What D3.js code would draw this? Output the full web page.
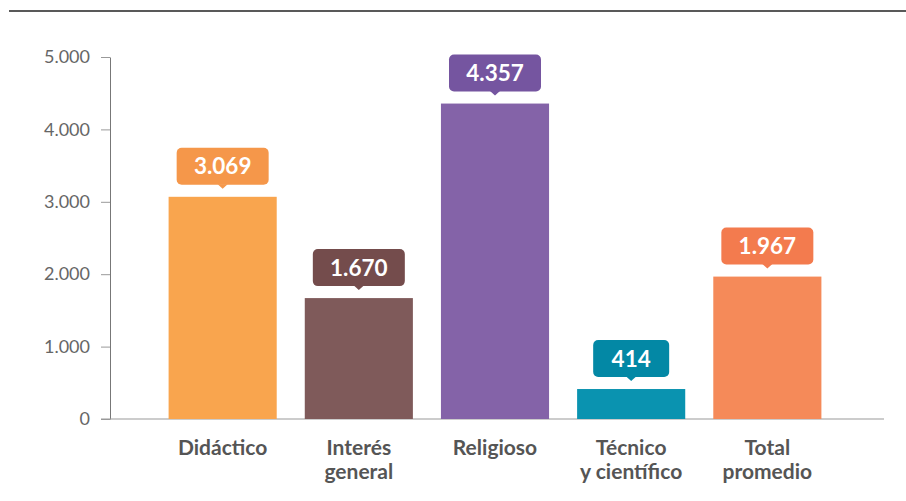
<!DOCTYPE html>
<html>
<head>
<meta charset="utf-8">
<script src="https://cdn.jsdelivr.net/npm/d3@7"></script>
<style>
  html, body { margin: 0; padding: 0; background: #fff; }
  svg { display: block; font-family: Lato, "Open Sans", sans-serif; }
</style>
</head>
<body>
<svg id="chart" width="906" height="501"></svg>
<script>
// data
const categories = [["Didáctico"], ["Interés", "general"], ["Religioso"], ["Técnico", "y científico"], ["Total", "promedio"]];
const values = [3069, 1670, 4357, 414, 1967];
const barColors = ["#F9A54E", "#7F5A5A", "#8463A8", "#0A93B0", "#F58A59"];
const tagColors = ["#F5974A", "#744C4C", "#7555A0", "#0388A5", "#F37B4E"];
const yTicks = [0, 1000, 2000, 3000, 4000, 5000];

const svg = d3.select("#chart");
const fmt = d3.formatLocale({ decimal: ",", thousands: ".", grouping: [3], currency: ["", ""] }).format(",d");

const x = d3.scaleBand()
  .domain(d3.range(values.length))
  .range([108, 882])
  .paddingInner(0.206)
  .paddingOuter(0.445);

const y = d3.scaleLinear()
  .domain([0, 5000])
  .range([419, 57]);

// top rule
svg.append("line")
  .attr("x1", 9).attr("x2", 906)
  .attr("y1", 11).attr("y2", 11)
  .attr("stroke", "#222").attr("stroke-width", 1.5);

// y axis
const yAxis = svg.append("g")
  .attr("transform", "translate(110,0)")
  .call(d3.axisLeft(y).tickValues(yTicks).tickFormat(fmt).tickSize(9).tickPadding(11).tickSizeOuter(0));
yAxis.select(".domain").attr("stroke", "#777");
yAxis.selectAll(".tick line").attr("stroke", "#999");
yAxis.selectAll(".tick text")
  .attr("fill", "#666")
  .attr("font-size", 18)
  .attr("font-family", "Lato, 'Open Sans', sans-serif");

// baseline
svg.append("line")
  .attr("x1", 101).attr("x2", 884)
  .attr("y1", y(0)).attr("y2", y(0))
  .attr("stroke", "#999").attr("stroke-width", 1.2);

// bars
svg.selectAll("rect.bar")
  .data(values)
  .join("rect")
  .attr("class", "bar")
  .attr("x", (d, i) => x(i))
  .attr("y", d => y(d))
  .attr("width", x.bandwidth())
  .attr("height", d => y(0) - y(d))
  .attr("fill", (d, i) => barColors[i]);

// value tags
const tags = svg.selectAll("g.tag")
  .data(values)
  .join("g")
  .attr("class", "tag")
  .attr("transform", (d, i) => `translate(${x(i) + x.bandwidth() / 2},${y(d) - 12})`);

tags.each(function (d, i) {
  const g = d3.select(this);
  const label = fmt(d);
  const w = label.length > 3 ? 92 : 76;
  const h = 37;
  g.append("rect")
    .attr("x", -w / 2).attr("y", -h)
    .attr("width", w).attr("height", h)
    .attr("rx", 5)
    .attr("fill", tagColors[i]);
  g.append("path")
    .attr("d", "M-5,-0.5L0,4L5,-0.5Z")
    .attr("fill", tagColors[i]);
  g.append("text")
    .attr("y", -h / 2)
    .attr("dy", "0.36em")
    .attr("text-anchor", "middle")
    .attr("fill", "#fff")
    .attr("font-weight", 700)
    .attr("font-size", 22.5)
    .text(label);
});

// category labels
svg.selectAll("text.cat")
  .data(categories)
  .join("text")
  .attr("class", "cat")
  .attr("x", (d, i) => x(i) + x.bandwidth() / 2)
  .attr("y", 455)
  .attr("text-anchor", "middle")
  .attr("fill", "#555")
  .attr("font-weight", 700)
  .attr("font-size", 21)
  .selectAll("tspan")
  .data(d => d)
  .join("tspan")
  .attr("x", function () { return this.parentNode.getAttribute("x"); })
  .attr("dy", (d, j) => j === 0 ? 0 : 24)
  .text(d => d);
</script>
</body>
</html>
